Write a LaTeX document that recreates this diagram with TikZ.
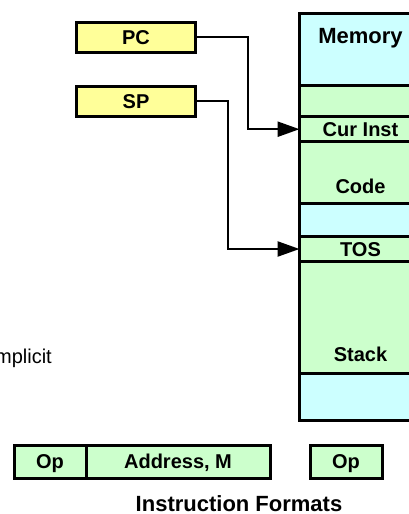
\documentclass[tikz,border=0pt]{standalone}
\usepackage{fontspec}
\setmainfont{Liberation Sans}
\definecolor{regyellow}{RGB}{255,255,153}
\definecolor{memgreen}{RGB}{204,255,204}
\definecolor{memcyan}{RGB}{204,255,255}
\usetikzlibrary{arrows.meta,positioning,calc}
\newcommand{\lblfont}{\fontsize{20}{24}\selectfont\bfseries}
\newcommand{\bigfont}{\fontsize{22}{26}\selectfont\bfseries}

\begin{document}
\begin{tikzpicture}[x=1pt, y=-1pt,
    reg/.style={draw, line width=3pt, fill=regyellow, minimum width=119pt, minimum height=30pt, inner sep=0pt, text height=14.3pt, text depth=0pt, font=\lblfont},
    cell/.style={draw, line width=3pt, minimum width=122pt, inner sep=0pt, outer sep=0pt, text height=14.3pt, text depth=0pt, font=\lblfont},
    fmt/.style={draw, line width=3pt, fill=memgreen, minimum width=72pt, minimum height=33pt, inner sep=0pt, outer sep=0pt, text height=14.3pt, text depth=0pt, font=\lblfont},
    ptr/.style={line width=2.4pt, -{Triangle[length=22pt,width=15pt]}}]
  \useasboundingbox (0,0) rectangle (409,514);
  \clip (0,0) rectangle (409,514);

  % Memory column, top to bottom
  \node[cell, fill=memcyan, minimum height=71.5pt, anchor=north] (mem) at (360.5,13.5) {};
  \node[cell, fill=memgreen, minimum height=31.7pt, below=0pt of mem] (free1) {};
  \node[cell, fill=memgreen, minimum height=25pt, below=0pt of free1] (cur) {Cur Inst};
  \node[cell, fill=memgreen, minimum height=61.8pt, below=0pt of cur] (code) {};
  \node[cell, fill=memcyan, minimum height=33pt, below=0pt of code] (free2) {};
  \node[cell, fill=memgreen, minimum height=25pt, below=0pt of free2] (tos) {TOS};
  \node[cell, fill=memgreen, minimum height=112pt, below=0pt of tos] (stack) {};
  \node[cell, fill=memcyan, minimum height=47pt, below=0pt of stack] (free3) {};

  \node[font=\bigfont, anchor=base, inner sep=0pt] (memlbl) at ($(mem.north)+(0,30)$) {Memory};
  \node[font=\lblfont, anchor=base, inner sep=0pt] (codelbl) at ($(code.south)+(0,-10)$) {Code};
  \node[font=\lblfont, anchor=base, inner sep=0pt] (stacklbl) at ($(stack.south)+(0,-12)$) {Stack};

  % Registers
  \node[reg] (pc) at (136,37) {PC};
  \node[reg] (sp) at (136,101) {SP};

  \draw[ptr] (pc.east) -- ++(51,0) |- (cur.west);
  \draw[ptr] (sp.east) -- ++(31,0) |- (tos.west);

  \node[font=\fontsize{20}{24}\selectfont, anchor=base east, inner sep=0pt] (impl) at (52,363) {Implicit};

  % Instruction formats
  \node[fmt] (op1) at (50,461.5) {Op};
  \node[fmt, minimum width=184pt, right=0pt of op1] (addr) {Address, M};
  \node[fmt] (op2) at (346,461.5) {Op};

  \node[font=\bigfont, anchor=base, inner sep=0pt] (title) at (239,511) {Instruction Formats};
\end{tikzpicture}
\end{document}
